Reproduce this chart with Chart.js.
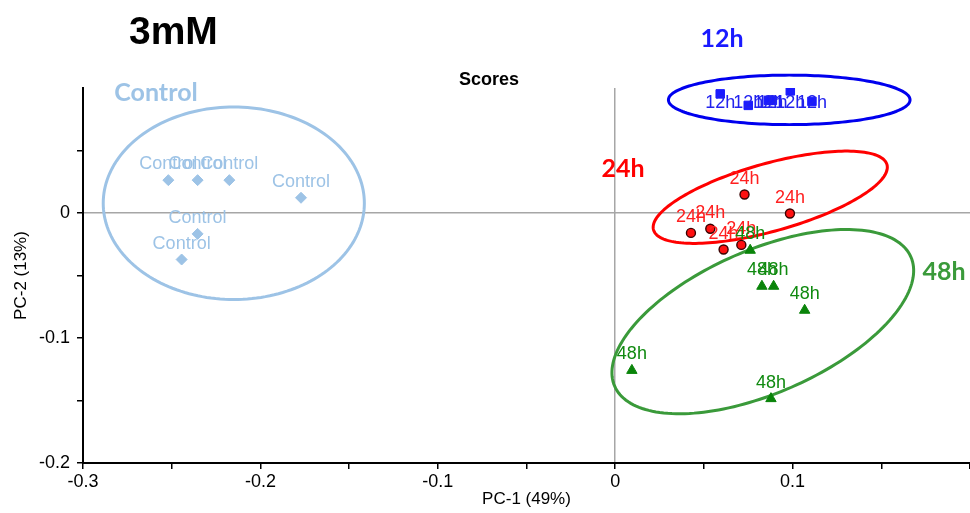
<!DOCTYPE html>
<html>
<head>
<meta charset="utf-8">
<script src="https://cdn.jsdelivr.net/npm/chart.js@4/dist/chart.umd.min.js"></script>
<style>
  html, body { margin: 0; padding: 0; background: #ffffff; }
  canvas { display: block; }
</style>
</head>
<body>
<canvas id="scores" width="970" height="513"></canvas>
<script>
// PCA scores (PC-1, PC-2) for each exposure group at 3mM
const groupNames = ['Control', '12h', '24h', '48h'];

const controlPC1 = [-0.2519, -0.2354, -0.2175, -0.1771, -0.2354, -0.2444];
const controlPC2 = [0.0263, 0.0263, 0.0263, 0.0122, -0.0167, -0.0372];

const h12PC1 = [0.0592, 0.0750, 0.0863, 0.0886, 0.0987, 0.1109];
const h12PC2 = [0.0953, 0.0861, 0.0901, 0.0901, 0.0977, 0.0893];

const h24PC1 = [0.0427, 0.0536, 0.0611, 0.0711, 0.0729, 0.0985];
const h24PC2 = [-0.0159, -0.0126, -0.0292, -0.0255, 0.0148, -0.0004];

const h48PC1 = [0.0761, 0.0827, 0.0893, 0.1068, 0.0094, 0.0878];
const h48PC2 = [-0.0298, -0.0586, -0.0586, -0.0778, -0.1259, -0.1485];

// Confidence ellipses in score units: centre and two conjugate semi-axes
const ellipseCentre = [[-0.2150, 0.0078], [0.0981, 0.0905], [0.0874, 0.0126], [0.0832, -0.0869]];
const ellipseAxisA  = [[0.0736, 0.0], [0.0681, 0.0], [0.0658, 0.0261], [0.0835, 0.0517]];
const ellipseAxisB  = [[0.0, 0.0770], [0.0, 0.0198], [0.00513, -0.0261], [0.01612, -0.0525]];

// Labelled ticks; the 0.05 steps in between are drawn as bare tick marks
const xTickLabels = ['-0.3', '-0.2', '-0.1', '0', '0.1'];
const yTickLabels = ['-0.2', '-0.1', '0'];

const groupPC1 = [controlPC1, h12PC1, h24PC1, h48PC1];
const groupPC2 = [controlPC2, h12PC2, h24PC2, h48PC2];

const groupStyle = [
  { color: '#9dc3e6', text: '#9dc3e6', ring: '#9dc3e6', border: '#9dc3e6', shape: 'rectRot', radius: 5.5, bw: 1 },
  { color: '#1a1aff', text: '#2222ee', ring: '#0000ee', border: '#1a1aff', shape: 'rect',    radius: 6,   bw: 1 },
  { color: '#ff1010', text: '#ff2020', ring: '#ff0000', border: '#3a0000', shape: 'circle',  radius: 4.5, bw: 1.4 },
  { color: '#0a840a', text: '#108a10', ring: '#3a9a3a', border: '#0a840a', shape: 'triangle', radius: 6, bw: 1 }
];

// Big group captions and headings (canvas pixels)
const captions = [
  { text: '3mM',     x: 129, y: 44,  font: 'bold 39px "Liberation Sans", Arial, sans-serif', color: '#000000', align: 'left' },
  { text: 'Scores',  x: 489, y: 85,  font: 'bold 18px "Liberation Sans", Arial, sans-serif', color: '#000000', align: 'center' },
  { text: 'Control', x: 156, y: 101, font: 'bold 25px Lato, "Open Sans", sans-serif', color: '#9dc3e6', align: 'center' },
  { text: '12h',     x: 722, y: 47,  font: 'bold 25px Lato, "Open Sans", sans-serif', color: '#1a1aff', align: 'center' },
  { text: '24h',     x: 623, y: 177, font: 'bold 25px Lato, "Open Sans", sans-serif', color: '#ff0000', align: 'center' },
  { text: '48h',     x: 944, y: 280, font: 'bold 25px Lato, "Open Sans", sans-serif', color: '#3a9a3a', align: 'center' }
];

const datasets = groupNames.map((name, g) => ({
  label: name,
  data: groupPC1[g].map((x, i) => ({ x: x, y: groupPC2[g][i] })),
  pointStyle: groupStyle[g].shape,
  pointRadius: groupStyle[g].radius,
  pointBackgroundColor: groupStyle[g].color,
  pointBorderColor: groupStyle[g].border,
  pointBorderWidth: groupStyle[g].bw,
  showLine: false
}));

function tickText(labels) {
  return function (value) {
    for (const s of labels) {
      if (Math.abs(value - parseFloat(s)) < 1e-9) return s;
    }
    return '';
  };
}

const zeroGrid = ctx => (ctx.tick && Math.abs(ctx.tick.value) < 1e-9 ? '#a6a6a6' : 'rgba(0,0,0,0)');
// no tick mark at the very top of the PC-2 axis
const yTickMark = ctx => (ctx.tick && ctx.tick.value > 0.099 ? 'rgba(0,0,0,0)' : '#000000');

// Ellipses drawn behind the markers
const ellipsePlugin = {
  id: 'groupEllipses',
  beforeDatasetsDraw(chart) {
    const { ctx, scales } = chart;
    ctx.save();
    ctx.lineWidth = 3;
    groupNames.forEach((name, g) => {
      const [cx, cy] = ellipseCentre[g];
      const [ax, ay] = ellipseAxisA[g];
      const [bx, by] = ellipseAxisB[g];
      ctx.beginPath();
      for (let k = 0; k <= 180; k++) {
        const t = (k / 180) * Math.PI * 2;
        const px = scales.x.getPixelForValue(cx + ax * Math.cos(t) + bx * Math.sin(t));
        const py = scales.y.getPixelForValue(cy + ay * Math.cos(t) + by * Math.sin(t));
        if (k === 0) ctx.moveTo(px, py); else ctx.lineTo(px, py);
      }
      ctx.closePath();
      ctx.strokeStyle = groupStyle[g].ring;
      ctx.stroke();
    });
    ctx.restore();
  }
};

// Sample names written above each marker, kept inside the plot area
const pointLabelPlugin = {
  id: 'pointLabels',
  afterDatasetsDraw(chart) {
    const { ctx, chartArea } = chart;
    ctx.save();
    ctx.font = '18px "Liberation Sans", Arial, sans-serif';
    ctx.textAlign = 'center';
    ctx.textBaseline = 'alphabetic';
    chart.data.datasets.forEach((ds, g) => {
      ctx.fillStyle = groupStyle[g].text;
      chart.getDatasetMeta(g).data.forEach(pt => {
        const y = Math.max(pt.y - 11, chartArea.top + 20);
        ctx.fillText(ds.label, pt.x, y);
      });
    });
    ctx.restore();
  }
};

const captionPlugin = {
  id: 'captions',
  afterDraw(chart) {
    const { ctx } = chart;
    ctx.save();
    ctx.textBaseline = 'alphabetic';
    captions.forEach(c => {
      ctx.font = c.font;
      ctx.fillStyle = c.color;
      ctx.textAlign = c.align;
      ctx.fillText(c.text, c.x, c.y);
    });
    ctx.restore();
  }
};

const tickFont = { family: '"Liberation Sans", Arial, sans-serif', size: 18 };
const titleFont = { family: '"Liberation Sans", Arial, sans-serif', size: 17 };

new Chart(document.getElementById('scores'), {
  type: 'scatter',
  data: { datasets: datasets },
  plugins: [ellipsePlugin, pointLabelPlugin, captionPlugin],
  options: {
    responsive: false,
    devicePixelRatio: 1,
    animation: false,
    layout: { autoPadding: false, padding: { top: 88, right: 0, bottom: 0, left: 0 } },
    plugins: { legend: { display: false }, tooltip: { enabled: false } },
    scales: {
      x: {
        type: 'linear',
        min: -0.3,
        max: 0.2,
        afterFit(scale) {
          scale.height = 50;
          scale.paddingLeft = 0;
          scale.paddingRight = 0;
        },
        border: { display: true, color: '#000000', width: 2 },
        grid: { color: zeroGrid, lineWidth: 1.5, tickColor: '#000000', tickLength: 6, tickWidth: 1.5 },
        ticks: { stepSize: 0.05, autoSkip: false, maxRotation: 0, padding: 2, color: '#000000', font: tickFont, callback: tickText(xTickLabels) },
        title: { display: true, text: 'PC-1 (49%)', color: '#000000', font: titleFont, padding: { top: 0, bottom: 3 } }
      },
      y: {
        type: 'linear',
        min: -0.2,
        max: 0.1,
        afterFit(scale) {
          scale.width = 83;
          scale.paddingTop = 0;
          scale.paddingBottom = 0;
        },
        border: { display: true, color: '#000000', width: 2 },
        grid: { color: zeroGrid, lineWidth: 1.5, tickColor: yTickMark, tickLength: 6, tickWidth: 1.5 },
        ticks: { stepSize: 0.05, autoSkip: false, padding: 7, color: '#000000', font: tickFont, callback: tickText(yTickLabels) },
        title: { display: true, text: 'PC-2 (13%)', color: '#000000', font: titleFont, padding: { top: 11, bottom: 0 } }
      }
    }
  }
});
</script>
</body>
</html>
